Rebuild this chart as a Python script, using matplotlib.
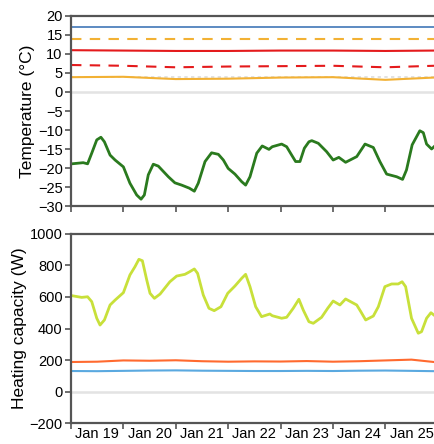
import numpy as np
import matplotlib
matplotlib.use('Agg')
import matplotlib.pyplot as plt

plt.rcParams['font.family'] = ['Liberation Sans', 'DejaVu Sans']

# hours since Jan 19 00:00
days = ['Jan 19', 'Jan 20', 'Jan 21', 'Jan 22', 'Jan 23', 'Jan 24', 'Jan 25']
t_end = 166.3

# outdoor temperature
t_out = [0.3, 5.6, 7.6, 9.5, 11.8, 13.7, 15.3, 17.9, 20.2, 24.0, 27.0, 30.1, 32.1, 33.6,
         35.4, 37.7, 40.0, 44.6, 47.6, 50.7, 54.2, 56.5, 58.3, 61.4, 64.4, 67.5, 69.8,
         72.0, 75.1, 78.2, 80.0, 82.0, 85.1, 87.6, 90.7, 92.2, 96.5, 98.8, 101.1, 102.9,
         104.9, 106.9, 109.0, 110.3, 113.3, 117.1, 120.1, 122.7, 125.8, 130.9, 134.7,
         138.5, 141.5, 144.6, 149.2, 151.9, 153.7, 156.3, 159.8, 161.4, 162.9, 165.2, 166.3]
temp_out = [-18.9, -18.6, -18.9, -16.1, -12.6, -11.9, -13.1, -16.6, -17.9, -19.7, -24.0,
            -27.1, -28.2, -27.1, -21.8, -19.0, -19.5, -22.3, -23.9, -24.5, -25.3, -26.1,
            -24.0, -18.3, -16.0, -16.4, -17.9, -20.1, -21.6, -23.6, -24.5, -22.3, -16.1,
            -14.2, -15.1, -14.4, -13.7, -14.4, -16.6, -18.3, -18.3, -14.8, -13.1, -12.8,
            -13.5, -15.7, -17.9, -17.2, -18.5, -17.0, -13.7, -14.6, -18.3, -21.6, -22.3,
            -23.0, -20.5, -13.9, -10.2, -10.7, -13.7, -15.0, -14.4]

# indoor temperatures
t_in = [0, 24, 48, 72, 96, 120, 144, 166.3]
temp_blue = [17, 17, 17, 17, 17, 17, 17, 17]
temp_orange_dash = [14, 14, 14, 14, 14, 14, 14, 14]
temp_red = [11.0, 10.9, 10.8, 10.8, 10.9, 10.9, 10.8, 10.9]
temp_red_dash = [7.1, 6.9, 6.5, 6.7, 6.8, 6.9, 6.5, 6.9]
temp_orange = [3.9, 4.0, 3.4, 3.5, 3.8, 3.9, 3.2, 3.8]
temp_ref = 4.0

# heating capacity
t_cap = [0.3, 4.9, 7.6, 9.5, 11.8, 13.3, 15.3, 17.9, 20.2, 24.0, 27.0, 29.3, 31.1, 32.7,
         34.7, 36.2, 38.2, 40.8, 45.3, 48.4, 52.2, 54.2, 56.5, 58.0, 60.6, 63.2, 65.6,
         68.7, 71.8, 75.1, 78.2, 80.0, 82.0, 84.6, 87.3, 91.1, 92.2, 96.5, 98.8, 101.8,
         104.4, 106.4, 109.0, 111.0, 114.8, 117.6, 120.1, 123.2, 125.8, 130.9, 132.8,
         135.0, 138.5, 140.8, 143.8, 146.9, 149.9, 151.7, 153.3, 156.0, 159.1, 160.6,
         162.9, 164.9, 166.3]
cap_green = [608, 597, 601, 570, 465, 422, 454, 549, 580, 627, 739, 791, 838, 829, 707,
             623, 591, 618, 696, 732, 743, 758, 777, 749, 612, 528, 513, 538, 623, 669,
             718, 743, 665, 538, 475, 492, 481, 465, 471, 528, 585, 517, 443, 433, 471,
             528, 574, 549, 587, 549, 506, 454, 479, 538, 665, 682, 682, 696, 665, 465,
             370, 380, 465, 500, 485]
cap_orange = [188, 190, 198, 196, 199, 193, 190, 192, 191, 194, 190, 193, 198, 203, 188]
cap_blue = [131, 130, 132, 134, 135, 133, 132, 131, 131, 132, 131, 133, 134, 132, 130]
t_cap2 = [0, 12, 24, 36, 48, 60, 72, 84, 96, 108, 120, 132, 144, 156, 166.3]

fig = plt.figure(figsize=(4.34, 4.44), dpi=100)
ax1 = fig.add_axes([0.1636, 0.536, 0.8364, 0.428])
ax2 = fig.add_axes([0.1636, 0.0466, 0.8364, 0.427])

ax1.axhline(0, color='#e3e3e3', lw=1.8, zorder=0)
ax1.axhline(temp_ref, color='#dddddd', lw=1.2, ls=(0, (2, 2)), zorder=0)
ax1.plot(t_in, temp_blue, color='#4f81bd', lw=1.3)
ax1.plot(t_in, temp_orange_dash, color='#f2b134', lw=1.5, ls=(0, (5, 4)))
ax1.plot(t_in, temp_red, color='#e41a1c', lw=1.5)
ax1.plot(t_in, temp_red_dash, color='#e41a1c', lw=1.5, ls=(0, (5, 4)))
ax1.plot(t_in, temp_orange, color='#f2b134', lw=1.5)
ax1.plot(t_out, temp_out, color='#2a7a1e', lw=2)
ax1.set_ylim(-30, 20)
ax1.set_yticks(np.arange(-30, 21, 5))
ax1.set_ylabel('Temperature (°C)', fontsize=12.5, labelpad=2)

ax2.axhline(0, color='#e3e3e3', lw=1.8, zorder=0)
ax2.plot(t_cap, cap_green, color='#c8e03a', lw=2)
ax2.plot(t_cap2, cap_orange, color='#ff6a2f', lw=1.5)
ax2.plot(t_cap2, cap_blue, color='#5aa9e0', lw=1.5)
ax2.set_ylim(-200, 1000)
ax2.set_yticks(np.arange(-200, 1001, 200))
ax2.set_ylabel('Heating capacity (W)', fontsize=12.5, labelpad=2)

for ax in (ax1, ax2):
    ax.set_xlim(0, t_end)
    ax.set_xticks(np.arange(0, 168, 24))
    ax.set_xticks(np.arange(12, 168, 24), minor=True)
    ax.tick_params(axis='x', which='major', labelbottom=False, length=4, width=1.2,
                   color='#555555')
    ax.tick_params(axis='x', which='minor', length=0, labelsize=10.5, pad=3)
    ax.tick_params(axis='y', length=4, width=1.2, color='#555555', labelsize=10.5, pad=2)
    ax.spines['right'].set_visible(False)
    for s in ('left', 'bottom', 'top'):
        ax.spines[s].set_color('#555555')
        ax.spines[s].set_linewidth(1.6)

ax1.tick_params(axis='x', which='minor', labelbottom=False)
ax2.set_xticklabels(days, minor=True)

fig.savefig('out.png', dpi=100)
